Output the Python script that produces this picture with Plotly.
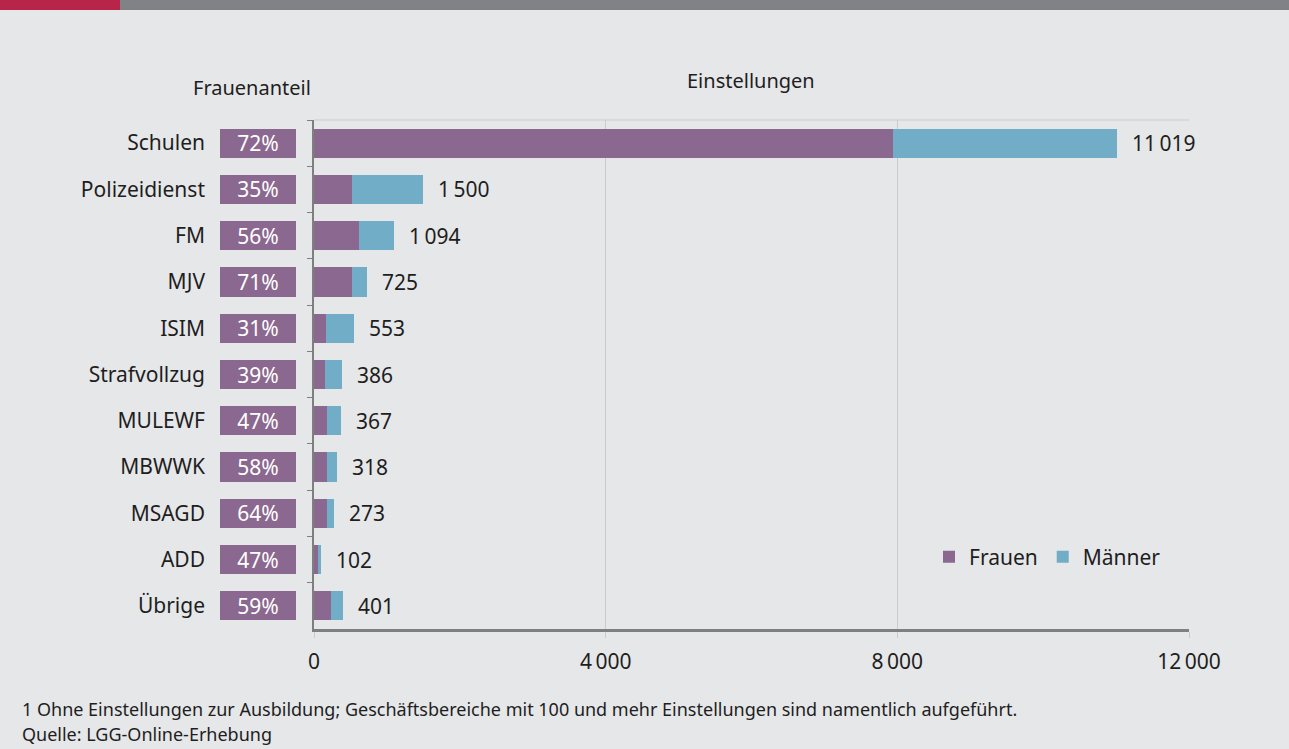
import plotly.graph_objects as go

categories = ["Schulen", "Polizeidienst", "FM", "MJV", "ISIM", "Strafvollzug",
              "MULEWF", "MBWWK", "MSAGD", "ADD", "Übrige"]
frauen = [7934, 525, 613, 515, 171, 151, 172, 184, 175, 48, 237]
maenner = [3085, 975, 481, 210, 382, 235, 195, 134, 98, 54, 164]
totals = [11019, 1500, 1094, 725, 553, 386, 367, 318, 273, 102, 401]
total_labels = ["11\u2009019", "1\u2009500", "1\u2009094", "725", "553", "386",
                "367", "318", "273", "102", "401"]
frauenanteil = ["72%", "35%", "56%", "71%", "31%", "39%", "47%", "58%", "64%", "47%", "59%"]
x_ticks = [0, 4000, 8000, 12000]
x_ticklabels = ["0", "4\u2009000", "8\u2009000", "12\u2009000"]

PURPLE = "#8b688f"
BLUE = "#72adc8"
BG = "#e6e7e9"
TXT = "#1e1e1e"
FONT = "Noto Sans"
FS = 21

W, H = 1289, 749
def px(x):
    return x / W
def py(y):
    return 1 - y / H

fig = go.Figure()

fig.add_trace(go.Bar(y=categories, x=frauen, orientation="h", name="Frauen",
                     marker=dict(color=PURPLE, line=dict(width=0)),
                     xaxis="x", yaxis="y", hoverinfo="x+y"))
fig.add_trace(go.Bar(y=categories, x=maenner, orientation="h", name="Männer",
                     marker=dict(color=BLUE, line=dict(width=0)),
                     xaxis="x", yaxis="y", hoverinfo="x+y"))

# Frauenanteil boxes
fig.add_trace(go.Bar(y=categories, x=[1] * len(categories), orientation="h",
                     text=frauenanteil, textposition="inside", insidetextanchor="middle",
                     constraintext="none",
                     textfont=dict(color="white", size=FS, family=FONT),
                     marker=dict(color=PURPLE, line=dict(width=0)),
                     xaxis="x2", yaxis="y2", showlegend=False, hoverinfo="text"))

for cat, tot, lab in zip(categories, totals, total_labels):
    fig.add_annotation(x=tot, y=cat, xref="x", yref="y", text=lab, showarrow=False,
                       xanchor="left", xshift=13, font=dict(size=FS, color=TXT, family=FONT))

ydom = [py(629), py(120)]
fig.update_layout(
    width=W, height=H,
    paper_bgcolor=BG, plot_bgcolor=BG,
    margin=dict(l=0, r=0, t=0, b=0, autoexpand=False),
    barmode="stack", bargap=0.37,
    font=dict(family=FONT, size=FS, color=TXT),
    showlegend=True,
    legend=dict(orientation="h", x=px(929), y=py(557), xanchor="left", yanchor="middle",
                bgcolor="rgba(0,0,0,0)", font=dict(size=FS, color=TXT, family=FONT),
                traceorder="normal", itemwidth=30),
    xaxis=dict(domain=[px(314), px(1189)], range=[0, 12000], tickvals=x_ticks,
               ticktext=x_ticklabels, showgrid=True, gridcolor="#cbcbcb", gridwidth=1,
               zeroline=False, showline=True, linecolor="#7f7f7f", linewidth=3,
               ticks="outside", ticklen=6, tickcolor="#cbcbcb",
               ticklabelstandoff=6, tickfont=dict(size=FS, color=TXT), fixedrange=True,
               anchor="y", automargin=False),
    yaxis=dict(domain=ydom, categoryorder="array", categoryarray=categories,
               autorange="reversed", showticklabels=False, showline=True,
               linecolor="#7f7f7f", linewidth=2, ticks="outside", tickson="boundaries",
               ticklen=5, tickcolor="#7f7f7f", showgrid=False, zeroline=False,
               anchor="x", fixedrange=True, automargin=False),
    xaxis2=dict(domain=[px(220), px(296)], range=[0, 1], showticklabels=False,
                showgrid=False, zeroline=False, showline=False, anchor="y2", fixedrange=True,
                automargin=False),
    yaxis2=dict(domain=ydom, categoryorder="array", categoryarray=categories,
                autorange="reversed", showticklabels=True, showline=False, showgrid=False,
                zeroline=False, ticks="", ticklabelstandoff=14, anchor="x2",
                tickfont=dict(size=FS, color=TXT), fixedrange=True, automargin=False),
)

# top border line of plot area
fig.add_shape(type="line", xref="x domain", yref="y domain", x0=0, x1=1, y0=1, y1=1,
              line=dict(color="#cbcbcb", width=1))

# decorative top strip
fig.add_shape(type="rect", xref="paper", yref="paper", x0=0, x1=px(120),
              y0=py(10), y1=1, fillcolor="#b92548", line=dict(width=0), layer="above")
fig.add_shape(type="rect", xref="paper", yref="paper", x0=px(120), x1=1,
              y0=py(10), y1=1, fillcolor="#818286", line=dict(width=0), layer="above")

fig.add_annotation(text="Einstellungen", x=px(751), y=py(81), xref="paper", yref="paper",
                   showarrow=False, xanchor="center", yanchor="middle",
                   font=dict(size=20, color=TXT, family=FONT))
fig.add_annotation(text="Frauenanteil", x=px(252), y=py(87), xref="paper", yref="paper",
                   showarrow=False, xanchor="center", yanchor="middle",
                   font=dict(size=20, color=TXT, family=FONT))
fig.add_annotation(text="1 Ohne Einstellungen zur Ausbildung; Geschäftsbereiche mit 100 und mehr Einstellungen sind namentlich aufgeführt.",
                   x=px(20), y=py(709), xref="paper", yref="paper", showarrow=False,
                   xanchor="left", yanchor="middle", font=dict(size=18, color=TXT, family=FONT))
fig.add_annotation(text="Quelle: LGG-Online-Erhebung",
                   x=px(20), y=py(734), xref="paper", yref="paper", showarrow=False,
                   xanchor="left", yanchor="middle", font=dict(size=18, color=TXT, family=FONT))

fig.write_html("out.html", config={"displayModeBar": False},
               post_script="document.body.style.margin='0';document.body.style.overflow='hidden';")
